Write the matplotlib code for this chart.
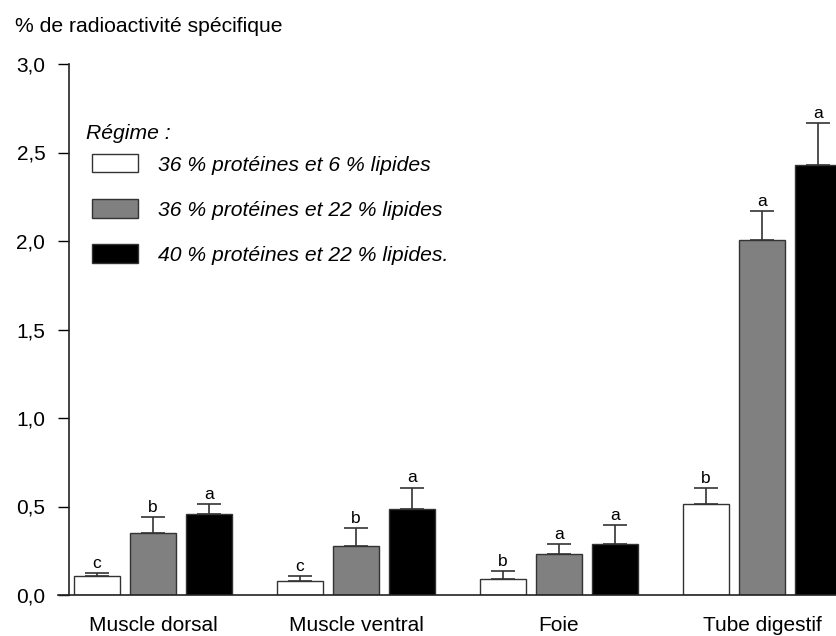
import numpy as np
import matplotlib.pyplot as plt
from matplotlib.ticker import FuncFormatter

plt.rcParams['font.family'] = ['Liberation Sans', 'DejaVu Sans']

# Data
tissues = ["Muscle dorsal", "Muscle ventral", "Foie", "Tube digestif"]
diets = ["36 % protéines et 6 % lipides",
         "36 % protéines et 22 % lipides",
         "40 % protéines et 22 % lipides."]
colors = ["white", "#808080", "black"]

values = [
    [0.11, 0.08, 0.09, 0.515],
    [0.35, 0.275, 0.23, 2.005],
    [0.455, 0.487, 0.29, 2.43],
]
errors = [
    [0.015, 0.028, 0.045, 0.09],
    [0.09, 0.105, 0.058, 0.165],
    [0.06, 0.12, 0.104, 0.237],
]
letters = [
    ["c", "c", "b", "b"],
    ["b", "b", "a", "a"],
    ["a", "a", "a", "a"],
]

fig = plt.figure(figsize=(8.37, 6.36), dpi=100)
ax = fig.add_axes([58 / 837, 41 / 636, 779 / 837, 531 / 636])

x = np.arange(len(tissues))
width = 0.227
offset = 0.276
edge = "#333333"

for i, (vals, errs, labs) in enumerate(zip(values, errors, letters)):
    pos = x + (i - 1) * offset
    ax.bar(pos, vals, width, color=colors[i], edgecolor=edge, linewidth=1,
           label=diets[i], zorder=2)
    ax.errorbar(pos, vals, yerr=[np.zeros(len(vals)), errs], fmt="none",
                ecolor=edge, elinewidth=1.2, capsize=8.5, capthick=1.2, zorder=3)
    for p, v, e, l in zip(pos, vals, errs, labs):
        ax.text(p, v + e + 0.012, l, ha="center", va="bottom", fontsize=12.5)

ax.set_xlim(-0.468, 3.369)
ax.set_ylim(0, 3.0)
ax.set_yticks(np.arange(0, 3.01, 0.5))
ax.yaxis.set_major_formatter(FuncFormatter(lambda v, p: f"{v:.1f}".replace(".", ",")))
ax.tick_params(axis="y", direction="out", length=8, width=1, labelsize=15, pad=9)
ax.tick_params(axis="x", length=0, labelsize=15, pad=15)
ax.set_xticks(x)
ax.set_xticklabels(tissues)

ax.spines["top"].set_visible(False)
ax.spines["right"].set_visible(False)
ax.spines["left"].set_position(("data", -0.414))
for s in ("left", "bottom"):
    ax.spines[s].set_color("#222222")
    ax.spines[s].set_linewidth(1.2)

ax.text(0.036, 0.870, "Régime :", transform=ax.transAxes, ha="left",
        va="center", fontsize=15.2, fontstyle="italic")
leg = ax.legend(loc="upper left", bbox_to_anchor=(0.0436, 0.83), frameon=False,
                fontsize=15.2, handlelength=2.2, handleheight=0.95,
                handletextpad=0.91, labelspacing=1.17, borderpad=0,
                borderaxespad=0)
for t in leg.get_texts():
    t.set_fontstyle("italic")

fig.text(15 / 837, 1 - 27 / 636, "% de radioactivité spécifique",
         ha="left", va="center", fontsize=15.2)

fig.savefig("out.png", dpi=100)
